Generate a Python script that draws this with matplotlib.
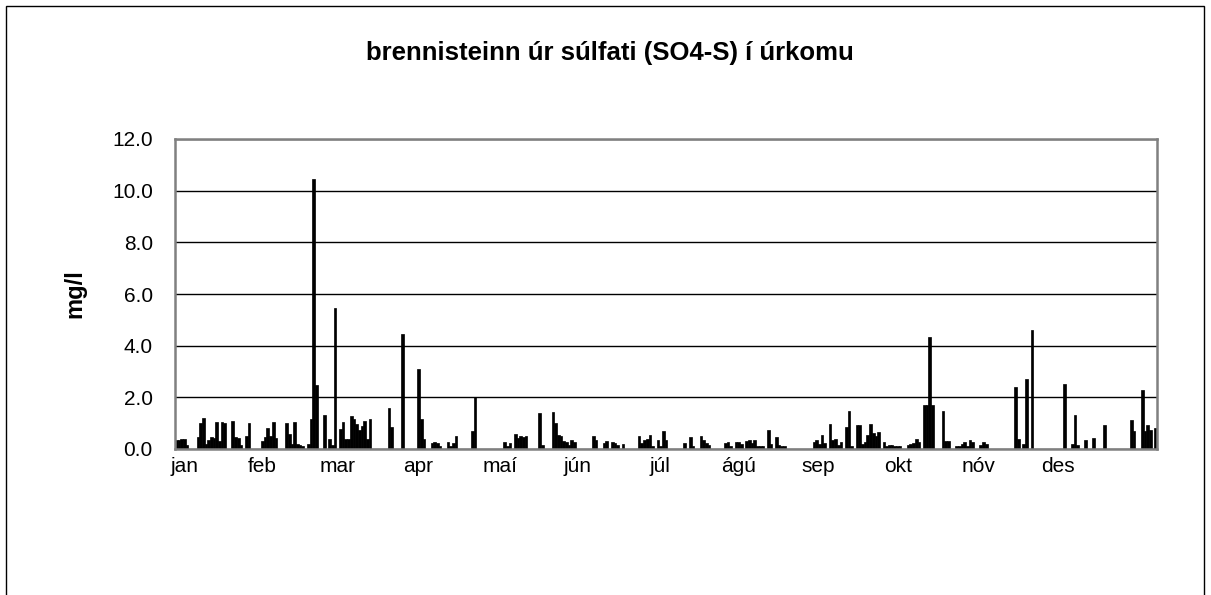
import matplotlib
matplotlib.use("Agg")
import matplotlib.pyplot as plt
from matplotlib.patches import Rectangle

plt.rcParams['font.family'] = ['Liberation Sans', 'DejaVu Sans']

title = "brennisteinn úr súlfati (SO4-S) í úrkomu"
ylabel = "mg/l"
months = ["jan", "feb", "mar", "apr", "maí", "jún", "júl", "ágú", "sep", "okt", "nóv", "des"]
month_pos = [3.7, 32.3, 60.6, 90.3, 120.8, 149.8, 180.3, 209.3, 239.0, 268.8, 298.5, 328.3]

# day of year (0-based) and SO4-S concentration (mg/l)
days = [0, 1, 2, 3, 4,
        8, 9, 10, 11, 12, 13, 14, 15, 16, 17, 18,
        21, 22, 23, 24, 26, 27,
        32, 33, 34, 35, 36, 37,
        41, 42, 43, 44, 45, 46, 47,
        49, 50, 51, 52, 55, 57, 58, 59,
        61, 62, 63, 64, 65, 66, 67, 68, 69, 70, 71, 72,
        79, 80, 84, 90, 91, 92,
        95, 96, 97, 98, 101, 102, 103, 104, 110, 111,
        122, 123, 124, 126, 127, 128, 129, 130,
        135, 136, 140, 141, 142, 143, 144, 145, 146, 147, 148,
        155, 156, 159, 160, 162, 163, 164, 166,
        172, 173, 174, 175, 176, 177, 179, 180, 181, 182,
        189, 191, 192, 195, 196, 197, 198,
        204, 205, 206, 208, 209, 210, 212, 213, 214, 215, 216, 217, 218,
        220, 221, 223, 224, 225, 226,
        237, 238, 239, 240, 241, 243, 244, 245, 246, 247,
        249, 250, 251, 253, 254, 255, 256, 257, 258, 259, 260, 261,
        263, 264, 265, 266, 267, 268, 269, 272,
        273, 274, 275, 276, 278, 279, 280, 281,
        285, 286, 287, 290, 291, 292, 293, 294, 295, 296, 299, 300, 301,
        312, 313, 315, 316, 318,
        330, 333, 334, 335, 338, 341, 345,
        355, 356, 359, 360, 361, 362, 364]
values = [0.36, 0.36, 0.40, 0.40, 0.16,
          0.47, 1.00, 1.20, 0.20, 0.36, 0.45, 0.42, 1.03, 0.30, 1.03, 1.00,
          1.10, 0.47, 0.42, 0.16, 0.52, 1.00,
          0.30, 0.47, 0.82, 0.50, 1.03, 0.42,
          1.00, 0.60, 0.20, 1.03, 0.20, 0.15, 0.10,
          0.20, 1.16, 10.45, 2.47, 1.33, 0.40, 0.16, 5.47,
          0.77, 1.05, 0.37, 0.37, 1.26, 1.17, 0.95, 0.75, 0.90, 1.10, 0.37, 1.15,
          1.60, 0.87, 4.45, 3.10, 1.15, 0.37,
          0.23, 0.26, 0.23, 0.10, 0.26, 0.10, 0.23, 0.52, 0.70, 2.03,
          0.29, 0.10, 0.23, 0.58, 0.42, 0.49, 0.45, 0.49,
          1.39, 0.16, 1.43, 1.00, 0.55, 0.49, 0.32, 0.29, 0.16, 0.36, 0.26,
          0.51, 0.36, 0.23, 0.32, 0.26, 0.23, 0.16, 0.19,
          0.51, 0.23, 0.36, 0.40, 0.55, 0.10, 0.36, 0.10, 0.70, 0.36,
          0.23, 0.46, 0.10, 0.51, 0.33, 0.23, 0.14,
          0.23, 0.29, 0.10, 0.26, 0.26, 0.19, 0.32, 0.36, 0.23, 0.36, 0.10, 0.10, 0.10,
          0.74, 0.19, 0.45, 0.16, 0.10, 0.10,
          0.29, 0.36, 0.19, 0.55, 0.23, 0.96, 0.36, 0.40, 0.16, 0.29,
          0.87, 1.48, 0.10, 0.91, 0.94, 0.19, 0.26, 0.55, 0.96, 0.61, 0.49, 0.65,
          0.29, 0.10, 0.16, 0.16, 0.13, 0.12, 0.12, 0.16,
          0.19, 0.22, 0.40, 0.29, 1.70, 1.70, 4.35, 1.70,
          1.46, 0.32, 0.32, 0.10, 0.10, 0.19, 0.29, 0.10, 0.36, 0.29, 0.16, 0.26, 0.19,
          2.40, 0.40, 0.20, 2.70, 4.60,
          2.52, 0.20, 1.30, 0.15, 0.35, 0.44, 0.91,
          1.11, 0.70, 2.30, 0.70, 0.91, 0.75, 0.82]

W, H = 1211, 595
fig = plt.figure(figsize=(W / 100, H / 100), dpi=100)
ax = fig.add_axes([175 / W, 1 - 449 / H, (1157 - 175) / W, (449 - 139) / H])

ax.bar([d + 0.5 for d in days], values, width=1.0, color='black',
       edgecolor='black', linewidth=0.5, align='center', zorder=3)

ax.set_xlim(0, 365)
ax.set_ylim(0, 12)
ax.set_yticks([0, 2, 4, 6, 8, 10, 12])
ax.set_yticklabels([f"{v:.1f}" for v in [0, 2, 4, 6, 8, 10, 12]], fontsize=15)
ax.set_xticks(month_pos)
ax.set_xticklabels(months, fontsize=15)
ax.tick_params(axis='both', length=0)
ax.tick_params(axis='y', pad=16)
ax.tick_params(axis='x', pad=6)

ax.grid(axis='y', color='black', linewidth=1.0, zorder=1)
for s in ax.spines.values():
    s.set_color('#808080')
    s.set_linewidth(1.8)
    s.set_zorder(4)

ax.set_ylabel(ylabel, fontsize=17, fontweight='bold')
ax.yaxis.set_label_coords(-(175 - 86) / (1157 - 175), 0.5)

fig.text(610 / W, 1 - 53 / H, title, fontsize=18.5, fontweight='bold',
         ha='center', va='center')

fig.patches.append(Rectangle((6 / W, -0.05), (1204 - 6) / W, 1 - 6 / H + 0.05,
                             transform=fig.transFigure, fill=False,
                             edgecolor='black', linewidth=1.0))

fig.savefig('out.png', dpi=100, facecolor='white')
